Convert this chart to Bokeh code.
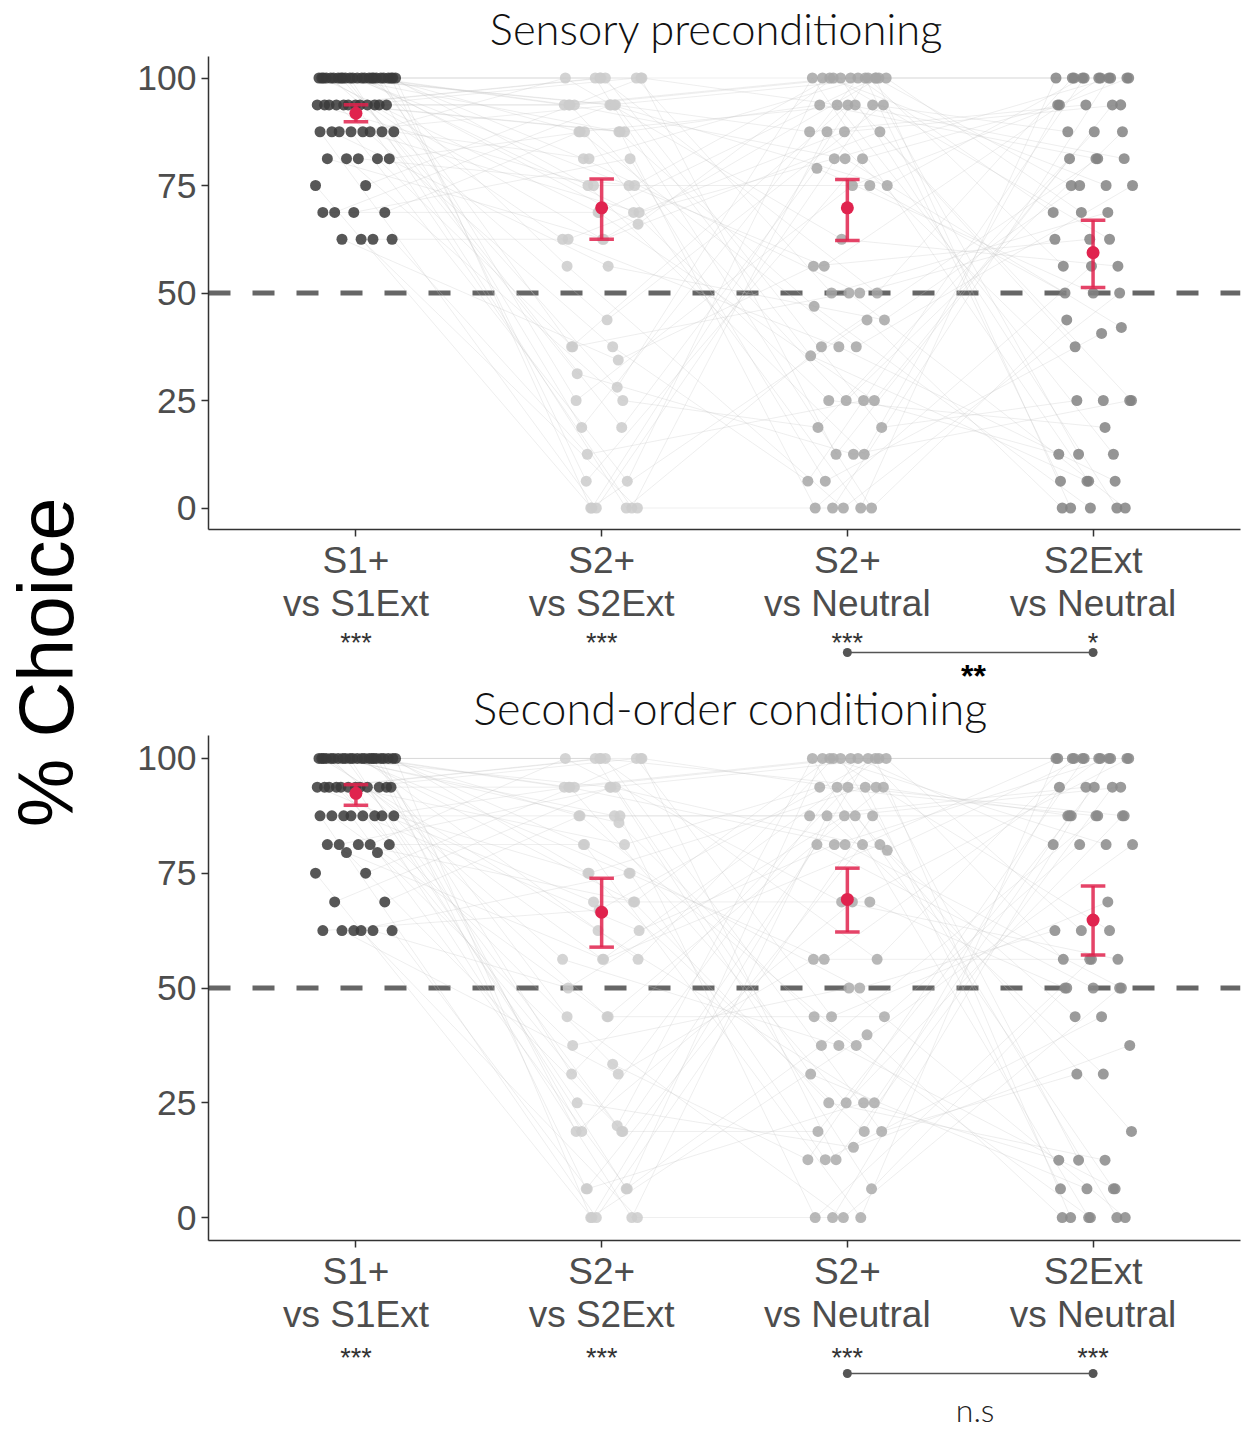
import numpy as np
from bokeh.plotting import figure
from bokeh.models import Range1d, FixedTicker, Span
from bokeh.layouts import column, row
from bokeh.embed import file_html
from bokeh.resources import INLINE
from bokeh.core.properties import value

# ---------------- data ----------------
categories = ["S1+\nvs S1Ext", "S2+\nvs S2Ext", "S2+\nvs Neutral", "S2Ext\nvs Neutral"]
y_ticks = [0, 25, 50, 75, 100]
chance_level = 50

# Sensory preconditioning: observed % choice values and how many subjects at each
sp_s1_vals = [100, 93.75, 87.5, 81.25, 75, 68.75, 62.5]
sp_s1_counts = [25, 12, 8, 5, 2, 4, 4]
sp_s2_vals = [100, 93.75, 87.5, 81.25, 75, 68.75, 66, 62.5, 56.25, 43.75, 37.5, 34.4, 31.25, 28.1, 25, 18.75, 12.5, 6.25, 0]
sp_s2_counts = [8, 8, 6, 3, 4, 4, 1, 4, 2, 1, 3, 1, 1, 1, 2, 2, 1, 2, 6]
sp_s2n_vals = [100, 93.75, 87.5, 81.25, 79, 75, 62.5, 56.25, 50, 46.9, 43.75, 37.5, 35.4, 25, 18.75, 12.5, 6.25, 0]
sp_s2n_counts = [13, 6, 4, 3, 1, 3, 1, 2, 4, 1, 2, 3, 1, 4, 2, 3, 2, 5]
sp_s2extn_vals = [100, 93.75, 87.5, 81.25, 75, 68.75, 62.5, 56.25, 50, 43.75, 42, 40.6, 37.5, 25, 18.75, 12.5, 6.25, 0]
sp_s2extn_counts = [11, 5, 3, 4, 4, 3, 3, 3, 3, 1, 1, 1, 1, 4, 1, 3, 4, 5]
sp_means = [91.8, 69.8, 69.8, 59.4]
sp_ci_low = [89.8, 62.5, 62.2, 51.3]
sp_ci_high = [93.8, 76.5, 76.4, 66.9]
sp_sig = ["***", "***", "***", "*"]
sp_pair = (3, 4)
sp_pair_sig = "**"

# Second-order conditioning
so_s1_vals = [100, 93.75, 87.5, 81.25, 79.5, 75, 68.75, 62.5]
so_s1_counts = [23, 12, 8, 5, 2, 2, 2, 6]
so_s2_vals = [100, 93.75, 87.5, 86, 81.25, 75, 68.75, 67, 62.5, 56.25, 50, 43.75, 37.5, 33.4, 31.25, 25, 20, 18.75, 6.25, 0]
so_s2_counts = [8, 7, 4, 1, 3, 4, 3, 1, 2, 4, 1, 3, 1, 1, 2, 1, 1, 4, 4, 5]
so_s2n_vals = [100, 93.75, 87.5, 81.25, 80, 68.75, 56.25, 50, 43.75, 39.8, 37.5, 31.25, 25, 18.75, 15.3, 12.6, 6.25, 0]
so_s2n_counts = [11, 6, 5, 5, 1, 3, 3, 2, 3, 1, 3, 1, 4, 3, 1, 3, 1, 4]
so_s2extn_vals = [100, 93.75, 87.5, 81.25, 68.75, 62.5, 56.25, 50, 43.75, 37.5, 31.25, 18.75, 12.5, 6.25, 0]
so_s2extn_counts = [12, 5, 7, 4, 1, 3, 4, 5, 2, 1, 2, 1, 3, 4, 6]
so_means = [92.4, 66.5, 69.3, 64.8]
so_ci_low = [89.8, 58.9, 62.2, 57.2]
so_ci_high = [94.3, 73.9, 76.1, 72.2]
so_sig = ["***", "***", "***", "***"]
so_pair = (3, 4)
so_pair_sig = "n.s"

# ---------------- styles / layout ----------------
SANS = value("Liberation Sans")
THIN = value("Lato Light, Roboto Light, Open Sans Light, Lato")
RED = "#e0234e"
FIG_W = 1142
BL, BR = 108, 2
H_T1, H_P1, H_S2, H_P2, H_S3 = 56, 570, 109, 602, 93
TOTAL_H = H_T1 + H_P1 + H_S2 + H_P2 + H_S3
sp_colors = ["#3a3a3a", "#cbcbcb", "#a6a6a6", "#828282"]
so_colors = ["#3a3a3a", "#cdcdcd", "#ababab", "#8a8a8a"]


def expand(vals, counts):
    out = []
    for v, c in zip(vals, counts):
        out += [v] * c
    return out


def subjects(cols):
    """Pair the per-condition values into subjects (fixed order) and jitter x."""
    n = len(cols[0])
    mult = [1, 7, 13, 17]
    off = [0, 5, 11, 23]
    xs, ys = [], []
    for i in range(n):
        sx, sy = [], []
        for k, col in enumerate(cols):
            jit = (((i * 0.6180339887 + k * 0.377 + 0.1) % 1.0) - 0.5) * 0.33
            sx.append(k + 1 + jit)
            sy.append(col[(mult[k] * i + off[k]) % n])
        xs.append(sx)
        ys.append(sy)
    return xs, ys


def strip(height):
    s = figure(width=FIG_W, height=height, x_range=Range1d(0.4, 4.6), y_range=Range1d(0, height),
               x_axis_type=None, y_axis_type=None, toolbar_location=None, output_backend="svg",
               min_border_left=BL, min_border_right=BR, min_border_top=0, min_border_bottom=0)
    s.grid.visible = False
    s.outline_line_color = None
    return s


def panel(cols, colors, means, lo, hi, height, below):
    p = figure(width=FIG_W, height=height, x_range=Range1d(0.4, 4.6), y_range=Range1d(-5, 105),
               toolbar_location=None, output_backend="svg",
               min_border_left=BL, min_border_right=BR, min_border_top=0, min_border_bottom=below)
    p.grid.visible = False
    p.outline_line_color = None

    xs, ys = subjects(cols)
    p.multi_line(xs, ys, line_color="#c8c8c8", line_alpha=0.3, line_width=1)

    p.add_layout(Span(location=chance_level, dimension="width", line_color="#666666",
                      line_width=5, line_dash="22 22", level="underlay"))

    for k in range(4):
        px = [s[k] for s in xs]
        py = [s[k] for s in ys]
        p.scatter(px, py, size=11, fill_color=colors[k], line_color=None, fill_alpha=0.85)

    cats = [1, 2, 3, 4]
    kw = dict(line_color=RED, line_width=3.5, line_alpha=0.85)
    p.segment(x0=cats, y0=lo, x1=cats, y1=hi, **kw)
    p.segment(x0=[c - 0.05 for c in cats], y0=lo, x1=[c + 0.05 for c in cats], y1=lo, **kw)
    p.segment(x0=[c - 0.05 for c in cats], y0=hi, x1=[c + 0.05 for c in cats], y1=hi, **kw)
    p.scatter(cats, means, size=13, fill_color=RED, line_color=None)

    p.xaxis.ticker = FixedTicker(ticks=cats)
    p.xaxis.major_label_overrides = {c: lab for c, lab in zip(cats, categories)}
    p.yaxis.ticker = FixedTicker(ticks=y_ticks)
    for ax in (p.xaxis, p.yaxis):
        ax.axis_line_color = "#333333"
        ax.axis_line_width = 1.5
        ax.major_tick_line_color = "#333333"
        ax.major_tick_line_width = 1.5
        ax.major_tick_in = 0
        ax.major_tick_out = 7
        ax.minor_tick_line_color = None
        ax.major_label_text_font = "Liberation Sans"
        ax.major_label_text_color = "#4d4d4d"
    p.xaxis.major_label_text_font_size = "37px"
    p.xaxis.major_label_text_line_height = 1.05
    p.xaxis.major_label_standoff = 3
    p.yaxis.major_label_text_font_size = "35.5px"
    p.yaxis.major_label_standoff = 5
    return p


sp_cols = [expand(sp_s1_vals, sp_s1_counts), expand(sp_s2_vals, sp_s2_counts),
           expand(sp_s2n_vals, sp_s2n_counts), expand(sp_s2extn_vals, sp_s2extn_counts)]
so_cols = [expand(so_s1_vals, so_s1_counts), expand(so_s2_vals, so_s2_counts),
           expand(so_s2n_vals, so_s2n_counts), expand(so_s2extn_vals, so_s2extn_counts)]

# ---- top title strip ----
t1 = strip(H_T1)
t1.text(x=[2.468], y=[H_T1 - 27], text=["Sensory preconditioning"], text_font=THIN,
        text_font_size="43.5px", text_align="center", text_baseline="middle", text_color="#111111")

# ---- top panel ----
p1 = panel(sp_cols, sp_colors, sp_means, sp_ci_low, sp_ci_high, H_P1, 96)

# ---- middle strip: significance + second title ----
s2 = strip(H_S2)
s2.text(x=[1, 2, 3, 4], y=[H_S2 - 16] * 4, text=sp_sig, text_font=SANS, text_font_size="27px",
        text_align="center", text_baseline="middle", text_color="#333333")
s2.segment(x0=[sp_pair[0]], y0=[H_S2 - 26], x1=[sp_pair[1]], y1=[H_S2 - 26],
           line_color="#555555", line_width=1.5)
s2.scatter([sp_pair[0], sp_pair[1]], [H_S2 - 26] * 2, size=9, fill_color="#555555", line_color=None)
s2.text(x=[3.513], y=[H_S2 - 49], text=[sp_pair_sig], text_font=SANS,
        text_font_size="32px", text_font_style="bold", text_align="center",
        text_baseline="middle", text_color="#000000")
s2.text(x=[2.525], y=[H_S2 - 81], text=["Second-order conditioning"], text_font=THIN,
        text_font_size="45px", text_align="center", text_baseline="middle", text_color="#111111")

# ---- bottom panel ----
p2 = panel(so_cols, so_colors, so_means, so_ci_low, so_ci_high, H_P2, 96)

# ---- bottom strip ----
s3 = strip(H_S3)
s3.text(x=[1, 2, 3, 4], y=[H_S3 - 20] * 4, text=so_sig, text_font=SANS, text_font_size="27px",
        text_align="center", text_baseline="middle", text_color="#333333")
s3.segment(x0=[so_pair[0]], y0=[H_S3 - 36], x1=[so_pair[1]], y1=[H_S3 - 36],
           line_color="#555555", line_width=1.5)
s3.scatter([so_pair[0], so_pair[1]], [H_S3 - 36] * 2, size=9, fill_color="#555555", line_color=None)
s3.text(x=[3.52], y=[H_S3 - 72], text=[so_pair_sig], text_font=THIN,
        text_font_size="32px", text_align="center", text_baseline="middle", text_color="#222222")

# ---- shared y label ----
lab = figure(width=100, height=TOTAL_H, x_range=Range1d(0, 100), y_range=Range1d(0, TOTAL_H),
             x_axis_type=None, y_axis_type=None, toolbar_location=None, output_backend="svg",
             min_border_left=0, min_border_right=0, min_border_top=0, min_border_bottom=0)
lab.grid.visible = False
lab.outline_line_color = None
lab.text(x=[45.5], y=[TOTAL_H - 662], text=["% Choice"], angle=np.pi / 2, text_font=SANS,
         text_font_size="77px", text_align="center", text_baseline="middle", text_color="#000000")

layout = row(lab, column(t1, p1, s2, p2, s3))
open("out.html", "w").write(file_html(layout, INLINE))
